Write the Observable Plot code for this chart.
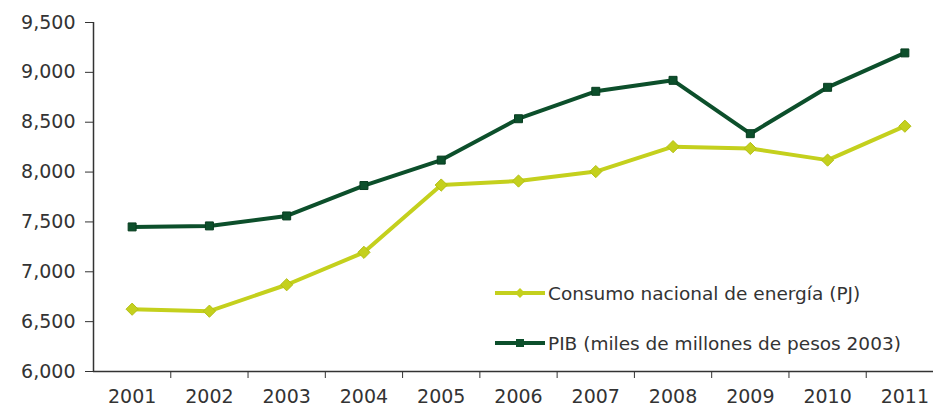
<!DOCTYPE html>
<html>
<head>
<meta charset="utf-8">
<script src="https://cdn.jsdelivr.net/npm/d3@7"></script>
<script src="https://cdn.jsdelivr.net/npm/@observablehq/plot@0.6"></script>
<style>
  html, body { margin: 0; padding: 0; background: #fff; }
  #wrap { position: relative; width: 933px; height: 414px; overflow: hidden; }
  #wrap svg { display: block; }
  .legend { position: absolute; left: 494px; top: 268px; font-family: "DejaVu Sans", sans-serif; font-size: 18.5px; color: #333; }
  .legend .item { display: flex; align-items: center; height: 50px; }
  .legend svg { margin-right: 2px; }
</style>
</head>
<body>
<div id="wrap"></div>
<script>
// Mexico: national energy consumption vs. GDP, 2001-2011
const years = [2001, 2002, 2003, 2004, 2005, 2006, 2007, 2008, 2009, 2010, 2011];
const consumo = [6625, 6605, 6870, 7195, 7870, 7910, 8005, 8255, 8237, 8120, 8460];
const pib = [7450, 7460, 7560, 7865, 8120, 8535, 8810, 8920, 8385, 8850, 9195];
const yTicks = [6000, 6500, 7000, 7500, 8000, 8500, 9000, 9500];

const seriesNames = ["Consumo nacional de energía (PJ)", "PIB (miles de millones de pesos 2003)"];
const colors = { consumo: "#c4d01d", pib: "#0c4f2b" };

const consumoRows = years.map((year, i) => ({ year, value: consumo[i] }));
const pibRows = years.map((year, i) => ({ year, value: pib[i] }));
// boundaries between the yearly categories carry the x tick marks
const bounds = years.slice(0, -1).map(y => y + 0.5);

const font = "DejaVu Sans, sans-serif";

const chart = Plot.plot({
  width: 933,
  height: 414,
  marginLeft: 93,
  marginRight: 0,
  marginTop: 22,
  marginBottom: 43,
  style: { fontFamily: font, fontSize: "19px", color: "#333", background: "#fff" },
  x: { domain: [2000.5, 2011.5], range: [93, 943] },
  y: { domain: [6000, 9500] },
  marks: [
    Plot.axisY({ ticks: yTicks, tickFormat: d3.format(","), tickSize: 8, tickPadding: 10, stroke: "#333", label: null }),
    Plot.axisX({ ticks: bounds, tickFormat: () => "", tickSize: 7, stroke: "#333", label: null }),
    Plot.axisX({ ticks: years, tickFormat: d => String(d), tickSize: 0, tickPadding: 18, label: null }),
    Plot.ruleY([6000], { stroke: "#333", strokeWidth: 1.5 }),
    Plot.ruleX([2000.5], { stroke: "#333", strokeWidth: 1.5 }),
    Plot.line(consumoRows, { x: "year", y: "value", stroke: colors.consumo, strokeWidth: 4 }),
    Plot.dot(consumoRows, { x: "year", y: "value", symbol: "diamond2", r: 5.5, fill: colors.consumo, stroke: "#b3bf14", strokeWidth: 1 }),
    Plot.line(pibRows, { x: "year", y: "value", stroke: colors.pib, strokeWidth: 4 }),
    Plot.dot(pibRows, { x: "year", y: "value", symbol: "square", r: 4.5, fill: colors.pib, stroke: "#083d20", strokeWidth: 1 })
  ]
});

const wrap = document.getElementById("wrap");
wrap.appendChild(chart);

// legend placed inside the plotting area
const legend = document.createElement("div");
legend.className = "legend";
const swatch = (color, shape) => {
  const marker = shape === "diamond"
    ? `<path d="M26,5 L31,10 L26,15 L21,10 Z" fill="${color}"/>`
    : `<rect x="22" y="6" width="8" height="8" fill="${color}"/>`;
  return `<svg width="52" height="20"><line x1="1" y1="10" x2="51" y2="10" stroke="${color}" stroke-width="4"/>${marker}</svg>`;
};
legend.innerHTML =
  `<div class="item">${swatch(colors.consumo, "diamond")}<span>${seriesNames[0]}</span></div>` +
  `<div class="item">${swatch(colors.pib, "square")}<span>${seriesNames[1]}</span></div>`;
wrap.appendChild(legend);
</script>
</body>
</html>
